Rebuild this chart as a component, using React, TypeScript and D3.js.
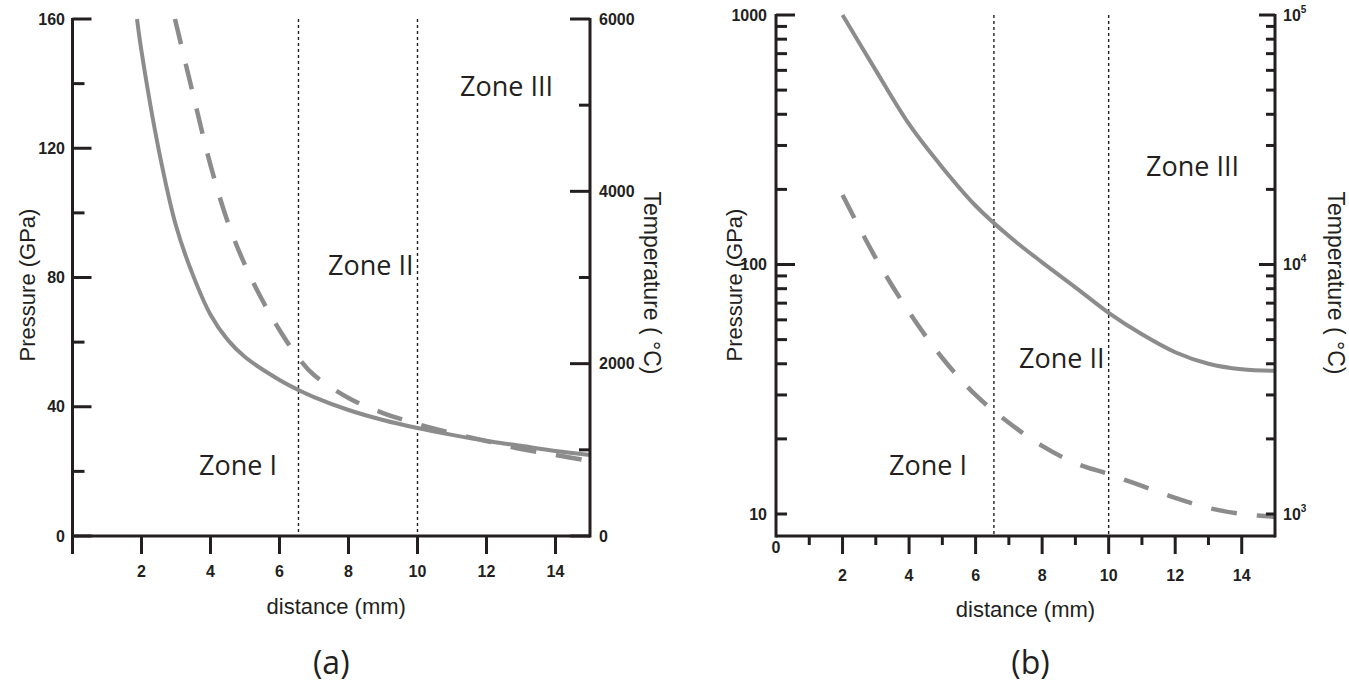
import React from "react";
import * as d3 from "d3";

// ---------- data (a) ----------
const distA_solid = [1.87, 2.0, 2.5, 3, 3.5, 4, 4.5, 5, 6, 6.55, 7, 8, 9, 10, 11, 12, 13, 14, 15];
const pressureA = [160, 150, 119.5, 96, 80.5, 68.5, 60.7, 55.4, 48.3, 45.2, 43, 39, 35.9, 33.4, 31.3, 29.4, 27.9, 26.3, 25.1];
const distA_dash = [2.97, 3.5, 4, 4.5, 5, 5.5, 6, 6.55, 7, 8, 9, 10, 11, 12, 13, 14, 15];
const temperatureA = [6000, 5118, 4305, 3644, 3145, 2739, 2391, 2066, 1868, 1602, 1427, 1300, 1195, 1102, 1010, 940, 870];

// ---------- data (b) ----------
const distB = [2, 3, 4, 5, 6, 7, 8, 9, 10, 11, 12, 13, 14, 15];
const pressureB = [1000, 600, 365, 245, 172, 130, 102, 81, 64, 52.5, 44.5, 40, 38, 37.5];
const distB_dash = [2, 3, 4, 5, 6, 7, 8, 9, 10, 11, 12, 13, 14, 15];
const temperatureB = [19000, 10600, 6450, 4220, 3000, 2320, 1875, 1600, 1445, 1295, 1160, 1057, 1000, 975];

const xTicksA = [2, 4, 6, 8, 10, 12, 14];
const xTicksB = [2, 4, 6, 8, 10, 12, 14];
const xMinorB = [1, 3, 5, 7, 9, 11, 13];
const yTicksA = [0, 40, 80, 120, 160];
const yMinorA = [20, 60, 100, 140];
const y2TicksA = [0, 2000, 4000, 6000];
const y2MinorA = [1000, 3000, 5000];
const yTicksB = [10, 100, 1000];
const y2TicksB = [1000, 10000, 100000];
const zoneLines = [6.55, 10];

const INK = "#231f20";
const CURVE = "#8c8c8c";
const TICKFONT = "'Liberation Sans', Arial, sans-serif";

function logMinor(lo: number, hi: number): number[] {
  const out: number[] = [];
  for (let dec = lo; dec < hi; dec *= 10) {
    for (let k = 2; k <= 9; k++) out.push(dec * k);
  }
  return out;
}

export default function App() {
  // panel (a)
  const xA = d3.scaleLinear().domain([0, 15]).range([72.5, 590]);
  const yA = d3.scaleLinear().domain([0, 160]).range([536, 19]);
  const y2A = d3.scaleLinear().domain([0, 6000]).range([536, 19]);
  // panel (b)
  const xB = d3.scaleLinear().domain([0, 15]).range([776, 1275]);
  const yB = d3.scaleLog().domain([10, 1000]).range([514, 15]);
  const y2B = d3.scaleLog().domain([1000, 100000]).range([514, 15]);
  const bottomB = 536;

  const lineA1 = d3.line<number>().x((_, i) => xA(distA_solid[i])).y((d) => yA(d)).curve(d3.curveCatmullRom);
  const lineA2 = d3.line<number>().x((_, i) => xA(distA_dash[i])).y((d) => y2A(d)).curve(d3.curveCatmullRom);
  const lineB1 = d3.line<number>().x((_, i) => xB(distB[i])).y((d) => yB(d)).curve(d3.curveCatmullRom);
  const lineB2 = d3.line<number>().x((_, i) => xB(distB_dash[i])).y((d) => y2B(d)).curve(d3.curveCatmullRom);

  const tickLabel = { fontFamily: TICKFONT, fontWeight: 700, fontSize: 16, fill: INK } as const;
  const titleStyle = { fontFamily: TICKFONT, fontSize: 22, fill: INK } as const;
  const tempStyle = { fontFamily: TICKFONT, fontSize: 23, fill: INK } as const;
  const zoneStyle = { fontFamily: "'Open Sans', 'Liberation Sans', sans-serif", fontSize: 27, fill: INK } as const;
  const capStyle = { fontFamily: "'Open Sans', 'Liberation Sans', sans-serif", fontSize: 32, fill: INK } as const;

  const sup = (exp: string) => (
    <>
      10<tspan dy={-8} fontSize={10}>{exp}</tspan>
    </>
  );

  return (
    <svg width={1349} height={699} style={{ position: "absolute", left: 0, top: 0, background: "#fff" }}>
      <rect width={1349} height={699} fill="#fff" />
      {/* ================= Panel (a) ================= */}
      <g>
        {zoneLines.map((z) => (
          <line key={"za" + z} x1={xA(z)} x2={xA(z)} y1={19} y2={536} stroke={INK} strokeWidth={1.4} strokeDasharray="3 3" />
        ))}
        <path d={lineA2(temperatureA) || ""} fill="none" stroke={CURVE} strokeWidth={4.5} strokeDasharray="26 20" />
        <path d={lineA1(pressureA) || ""} fill="none" stroke={CURVE} strokeWidth={4} />
        <line x1={xA(0)} x2={xA(0)} y1={18} y2={554} stroke={INK} strokeWidth={3} />
        <line x1={xA(0)} x2={xA(15)} y1={536} y2={536} stroke={INK} strokeWidth={3} />
        <line x1={xA(15)} x2={xA(15)} y1={18} y2={537.5} stroke={INK} strokeWidth={3} />
        {yTicksA.map((t) => (
          <g key={"ya" + t}>
            <line x1={xA(0)} x2={xA(0) + 19} y1={yA(t)} y2={yA(t)} stroke={INK} strokeWidth={3} />
            <text x={65} y={yA(t)} dy="0.35em" textAnchor="end" {...tickLabel}>{t}</text>
          </g>
        ))}
        {yMinorA.map((t) => (
          <line key={"yma" + t} x1={xA(0)} x2={xA(0) + 12} y1={yA(t)} y2={yA(t)} stroke={INK} strokeWidth={3} />
        ))}
        {y2TicksA.map((t) => (
          <g key={"y2a" + t}>
            <line x1={xA(15) - 20} x2={xA(15)} y1={y2A(t)} y2={y2A(t)} stroke={INK} strokeWidth={3} />
            <text x={599} y={y2A(t)} dy="0.35em" textAnchor="start" {...tickLabel}>{t}</text>
          </g>
        ))}
        {y2MinorA.map((t) => (
          <line key={"y2ma" + t} x1={xA(15) - 11} x2={xA(15)} y1={y2A(t)} y2={y2A(t)} stroke={INK} strokeWidth={3} />
        ))}
        {xTicksA.map((t) => (
          <g key={"xa" + t}>
            <line x1={xA(t)} x2={xA(t)} y1={536} y2={554} stroke={INK} strokeWidth={3} />
            <text x={xA(t)} y={577} textAnchor="middle" {...tickLabel}>{t}</text>
          </g>
        ))}
        <text x={xA(7.5) + 5} y={614} textAnchor="middle" {...titleStyle}>distance (mm)</text>
        <text transform={`translate(35,285) rotate(-90)`} textAnchor="middle" {...titleStyle}>Pressure (GPa)</text>
        <text transform={`translate(644,283) rotate(90)`} textAnchor="middle" {...tempStyle}>Temperature ( °C)</text>
        <text x={460} y={96} {...zoneStyle}>Zone III</text>
        <text x={328} y={275} {...zoneStyle}>Zone II</text>
        <text x={199} y={475} {...zoneStyle}>Zone I</text>
        <text x={xA(7.5)} y={674} textAnchor="middle" {...capStyle}>(a)</text>
      </g>

      {/* ================= Panel (b) ================= */}
      <g>
        {zoneLines.map((z) => (
          <line key={"zb" + z} x1={xB(z)} x2={xB(z)} y1={15} y2={bottomB} stroke={INK} strokeWidth={1.4} strokeDasharray="3 3" />
        ))}
        <path d={lineB2(temperatureB) || ""} fill="none" stroke={CURVE} strokeWidth={4.5} strokeDasharray="26 20" />
        <path d={lineB1(pressureB) || ""} fill="none" stroke={CURVE} strokeWidth={4} />
        <line x1={xB(0)} x2={xB(0)} y1={14} y2={bottomB + 1.5} stroke={INK} strokeWidth={3} />
        <line x1={xB(0)} x2={xB(15)} y1={bottomB} y2={bottomB} stroke={INK} strokeWidth={3} />
        <line x1={xB(15)} x2={xB(15)} y1={14} y2={bottomB + 1.5} stroke={INK} strokeWidth={3} />
        {yTicksB.map((t) => (
          <g key={"yb" + t}>
            <line x1={xB(0)} x2={xB(0) + (t === 10 ? 11 : 19)} y1={yB(t)} y2={yB(t)} stroke={INK} strokeWidth={3} />
            <text x={767} y={yB(t)} dy="0.35em" textAnchor="end" {...tickLabel}>{t}</text>
          </g>
        ))}
        {logMinor(10, 1000).map((t) => (
          <line key={"ymb" + t} x1={xB(0)} x2={xB(0) + 11} y1={yB(t)} y2={yB(t)} stroke={INK} strokeWidth={3} />
        ))}
        {y2TicksB.map((t, i) => (
          <g key={"y2b" + t}>
            <line x1={xB(15) - (t === 1000 ? 9 : 16)} x2={xB(15)} y1={y2B(t)} y2={y2B(t)} stroke={INK} strokeWidth={3} />
            <text x={1283} y={y2B(t)} dy="0.35em" textAnchor="start" {...tickLabel}>{sup(String(3 + i))}</text>
          </g>
        ))}
        {logMinor(1000, 100000).map((t) => (
          <line key={"y2mb" + t} x1={xB(15) - 9} x2={xB(15)} y1={y2B(t)} y2={y2B(t)} stroke={INK} strokeWidth={3} />
        ))}
        {xTicksB.map((t) => (
          <g key={"xb" + t}>
            <line x1={xB(t)} x2={xB(t)} y1={bottomB} y2={bottomB + 18} stroke={INK} strokeWidth={3} />
            <text x={xB(t)} y={581} textAnchor="middle" {...tickLabel}>{t}</text>
          </g>
        ))}
        {xMinorB.map((t) => (
          <line key={"xmb" + t} x1={xB(t)} x2={xB(t)} y1={bottomB} y2={bottomB + 9} stroke={INK} strokeWidth={3} />
        ))}
        <text x={xB(0)} y={553} textAnchor="middle" {...tickLabel}>0</text>
        <text x={xB(7.5)} y={617} textAnchor="middle" {...titleStyle}>distance (mm)</text>
        <text transform={`translate(742,285) rotate(-90)`} textAnchor="middle" {...titleStyle}>Pressure (GPa)</text>
        <text transform={`translate(1328,283) rotate(90)`} textAnchor="middle" {...tempStyle}>Temperature ( °C)</text>
        <text x={1146} y={176} {...zoneStyle}>Zone III</text>
        <text x={1019} y={368} {...zoneStyle}>Zone II</text>
        <text x={889} y={475} {...zoneStyle}>Zone I</text>
        <text x={xB(7.5) + 5} y={674} textAnchor="middle" {...capStyle}>(b)</text>
      </g>
    </svg>
  );
}
